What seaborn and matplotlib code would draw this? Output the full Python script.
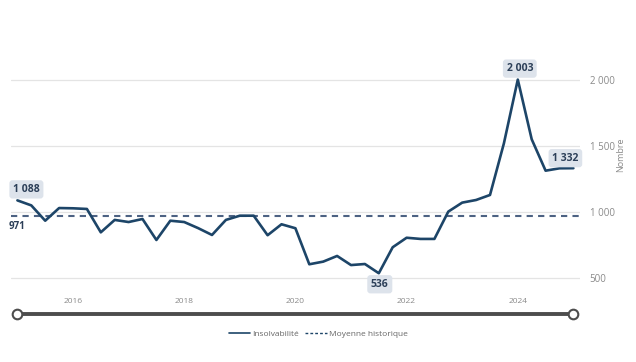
import numpy as np
import pandas as pd
import matplotlib
matplotlib.use("Agg")
import matplotlib.pyplot as plt
from matplotlib.lines import Line2D
import seaborn as sns

# Data: quarterly insolvencies, 2015 Q1 -> 2025 Q1
start_year = 2015
values = [1088, 1050, 934, 1030, 1028, 1023, 846, 940, 924, 947,
          788, 934, 924, 878, 826, 940, 972, 972, 824, 907,
          877, 604, 624, 667, 598, 606, 536, 733, 805, 796,
          796, 1003, 1071, 1091, 1129, 1520, 2003, 1551, 1313, 1331,
          1332]
historic_mean = 971
year_ticks = [2016, 2018, 2020, 2022, 2024]
y_ticks = [500, 1000, 1500, 2000]
series_label = "Insolvabilité"
mean_label = "Moyenne historique"
y_label = "Nombre"

df = pd.DataFrame({"t": start_year + np.arange(len(values)) / 4, "n": values})

navy = "#1d4568"
dash_col = "#4d6283"
grey_txt = "#8a8a8a"
box_col = "#dde3eb"
lab_col = "#2c3f58"


def fmt(v):
    return f"{v:,}".replace(",", " ")


sns.set_style("white")
plt.rcParams["font.family"] = ["Open Sans", "DejaVu Sans"]

W, H = 636, 362
fig = plt.figure(figsize=(W / 100, H / 100), dpi=100)
ax = fig.add_axes([11 / W, (H - 290) / H, 569 / W, 270 / H])

px_per_unit = 198 / 1500
px_per_year = 55.6
ax.set_ylim(2000 - 210 / px_per_unit, 2000 + 60 / px_per_unit)
ax.set_xlim(start_year + (11 - 17.4) / px_per_year, start_year + (580 - 17.4) / px_per_year)

ax.axhline(historic_mean, color=dash_col, lw=1.5, ls=(0, (3, 2.5)), zorder=2)
sns.lineplot(data=df, x="t", y="n", ax=ax, color=navy, lw=1.9, zorder=3)

ax.set_yticks(y_ticks)
ax.set_yticklabels([fmt(v) for v in y_ticks])
ax.set_xticks(year_ticks)
ax.set_xticklabels([str(y) for y in year_ticks])
ax.yaxis.tick_right()
ax.yaxis.set_label_position("right")
ax.tick_params(axis="y", length=0, pad=7, labelsize=7, labelcolor=grey_txt)
ax.tick_params(axis="x", length=0, pad=6, labelsize=6, labelcolor=grey_txt)
ax.grid(axis="y", color="#e4e4e4", lw=0.9)
ax.grid(axis="x", visible=False)
ax.set_xlabel("")
ax.set_ylabel(y_label, fontsize=6.5, color=grey_txt, labelpad=1)
for s in ax.spines.values():
    s.set_visible(False)

# value callouts
def callout(i, dx, dy):
    ax.annotate(fmt(values[i]), (df.t[i], values[i]), xytext=(dx * 0.72, dy * 0.72),
                textcoords="offset points", ha="center", va="center",
                fontsize=7.5, fontweight="bold", color=lab_col, zorder=5,
                bbox=dict(boxstyle="round,pad=0.35,rounding_size=0.3", fc=box_col, ec="none"))

imax = int(np.argmax(values))
imin = int(np.argmin(values))
callout(0, 9, 11)
callout(imax, 2, 11)
callout(imin, 1, -11)
callout(len(values) - 1, -8, 10)

ax.annotate(str(historic_mean), (df.t[0], historic_mean), xytext=(0, -7.5),
            textcoords="offset points", ha="center", va="center",
            fontsize=7, fontweight="bold", color=lab_col)

# range slider below the chart
sax = fig.add_axes([11 / W, (H - 322) / H, 569 / W, 16 / H])
sax.set_xlim(ax.get_xlim())
sax.set_ylim(-1, 1)
ends = pd.DataFrame({"t": [df.t.iloc[0], df.t.iloc[-1]], "y": [0, 0]})
sns.lineplot(data=ends, x="t", y="y", ax=sax, color="#4d4d4d", lw=2.8, zorder=1)
sax.scatter(ends.t, ends.y, s=48, facecolor="white", edgecolor="#4d4d4d", lw=1.5, zorder=2, clip_on=False)
sax.axis("off")

handles = [Line2D([], [], color=navy, lw=1.2),
           Line2D([], [], color=navy, lw=1.0, ls=(0, (2, 1.5)))]
fig.legend(handles, [series_label, mean_label], loc="center", bbox_to_anchor=(0.5, 1 - 334 / H),
           ncol=2, frameon=False, fontsize=6, labelcolor="#666666",
           handlelength=2.6, handletextpad=0.2, columnspacing=0.8)

fig.savefig("out.png", dpi=100)
